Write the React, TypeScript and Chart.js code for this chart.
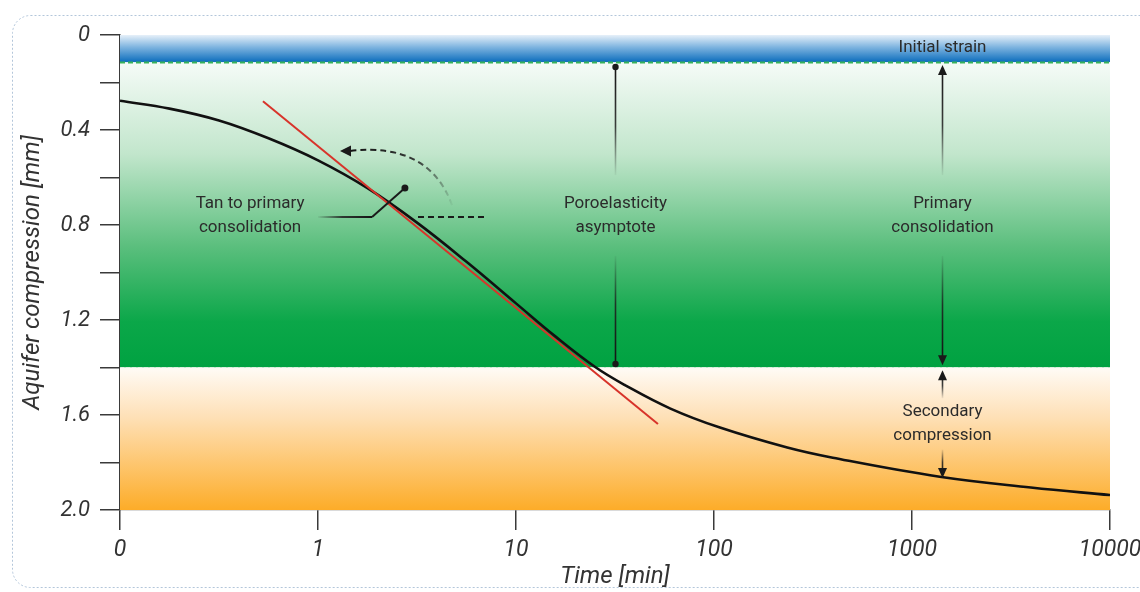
import React, { useEffect, useRef } from "react";
import { Chart, registerables } from "chart.js";

Chart.register(...registerables);

// ---- data (x in log10 decades: 0 -> "0", 1 -> "1", ... 5 -> "10000") ----
const timeDecade = [0, 0.25, 0.5, 0.75, 1.0, 1.25, 1.5, 1.75, 2.0, 2.2, 2.4, 2.55, 2.78, 3.03, 3.37, 3.6, 4.14, 4.6, 5.0];
const compression = [0.277, 0.31, 0.36, 0.435, 0.528, 0.645, 0.79, 0.955, 1.13, 1.27, 1.398, 1.474, 1.573, 1.653, 1.737, 1.78, 1.86, 1.905, 1.937];
const tangentX = [0.722, 2.717];
const tangentY = [0.279, 1.638];
const xTickLabels = ["0", "1", "10", "100", "1000", "10000"];
const yTickValues = [0, 0.2, 0.4, 0.6, 0.8, 1.0, 1.2, 1.4, 1.6, 1.8, 2.0];
const yTickLabels = ["0", "", "0.4", "", "0.8", "", "1.2", "", "1.6", "", "2.0"];
const bandEdges = [0, 0.115, 1.4, 2.0];

// annotation anchors (data coordinates)
const sideX = 4.15;
const initialStrainY = 0.055;
const primaryLabelY = [0.712, 0.813];
const secondaryLabelY = [1.587, 1.688];
const asymptoteX = 2.5;
const asymptoteLabelY = [0.712, 0.813];
const asymptoteSpan = [0.135, 0.59, 0.93, 1.385];
const primaryArrowSpan = [0.126, 0.59, 0.93, 1.39];
const secondaryArrowSpan = [1.412, 1.53, 1.745, 1.865];
const tanLabelX = 0.657;
const tanLabelY = [0.712, 0.813];
const tanLeaderX = [1.0, 1.273, 1.439];
const tanLeaderY = [0.766, 0.766, 0.644];
const tanDashX = [1.505, 1.854];
const tanDashY = 0.766;
const rotArrowX = [1.677, 1.561, 1.162, 1.111];
const rotArrowY = [0.716, 0.451, 0.488, 0.488];

const FONT = 'Roboto, "Open Sans", "DejaVu Sans", sans-serif';
const TEXT = "#2b2b2b";
const bandStops: [number, string][][] = [
  [[0, "#e6f0f9"], [0.45, "#7db3df"], [1, "#0a6cbc"]],
  [[0, "#f5fbf7"], [0.3, "#c2e6cc"], [0.6, "#5cbf7e"], [0.85, "#0ba749"], [1, "#00a241"]],
  [[0, "#fffbf6"], [0.35, "#fee0b6"], [1, "#fdac28"]],
];

function fadeStroke(ctx: CanvasRenderingContext2D, x1: number, y1: number, x2: number, y2: number) {
  const g = ctx.createLinearGradient(x1, y1, x2, y2);
  g.addColorStop(0, "rgba(30,30,30,0.05)");
  g.addColorStop(0.45, "rgba(30,30,30,0.85)");
  g.addColorStop(1, "rgba(20,20,20,1)");
  return g;
}

function vArrow(ctx: CanvasRenderingContext2D, x: number, yFade: number, yHead: number) {
  const dir = yHead > yFade ? 1 : -1;
  ctx.save();
  ctx.strokeStyle = fadeStroke(ctx, x, yFade, x, yHead);
  ctx.lineWidth = 1.6;
  ctx.beginPath();
  ctx.moveTo(x, yFade);
  ctx.lineTo(x, yHead - dir * 6);
  ctx.stroke();
  ctx.fillStyle = "#1a1a1a";
  ctx.beginPath();
  ctx.moveTo(x, yHead);
  ctx.lineTo(x - 4.5, yHead - dir * 10);
  ctx.lineTo(x + 4.5, yHead - dir * 10);
  ctx.closePath();
  ctx.fill();
  ctx.restore();
}

function vDotLine(ctx: CanvasRenderingContext2D, x: number, yFade: number, yDot: number) {
  ctx.save();
  ctx.strokeStyle = fadeStroke(ctx, x, yFade, x, yDot);
  ctx.lineWidth = 1.6;
  ctx.beginPath();
  ctx.moveTo(x, yFade);
  ctx.lineTo(x, yDot);
  ctx.stroke();
  ctx.fillStyle = "#1a1a1a";
  ctx.beginPath();
  ctx.arc(x, yDot, 3.2, 0, Math.PI * 2);
  ctx.fill();
  ctx.restore();
}

const framePlugin = {
  id: "frame",
  beforeDraw(chart: any) {
    const ctx = chart.ctx;
    ctx.save();
    ctx.strokeStyle = "#b3c6da";
    ctx.lineWidth = 1;
    ctx.setLineDash([2, 2]);
    ctx.beginPath();
    ctx.roundRect(12.5, 15.5, 1160, 572, 18);
    ctx.stroke();
    ctx.restore();
  },
};

const bandsPlugin = {
  id: "bands",
  beforeDatasetsDraw(chart: any) {
    const { ctx, scales } = chart;
    const xs = scales.x, ys = scales.y;
    const left = xs.getPixelForValue(xs.min);
    const right = xs.getPixelForValue(xs.max);
    ctx.save();
    for (let i = 0; i < bandEdges.length - 1; i++) {
      const top = ys.getPixelForValue(bandEdges[i]);
      const bottom = ys.getPixelForValue(bandEdges[i + 1]);
      const g = ctx.createLinearGradient(0, top, 0, bottom);
      bandStops[i].forEach(([o, c]) => g.addColorStop(o, c));
      ctx.fillStyle = g;
      ctx.fillRect(left, top, right - left, bottom - top);
    }
    const y1 = Math.round(ys.getPixelForValue(bandEdges[1])) + 0.5;
    ctx.setLineDash([5, 3]);
    ctx.lineWidth = 2;
    ctx.strokeStyle = "#39b25a";
    ctx.beginPath();
    ctx.moveTo(left, y1);
    ctx.lineTo(right, y1);
    ctx.stroke();
    const y2 = Math.round(ys.getPixelForValue(bandEdges[2])) + 0.5;
    ctx.setLineDash([4, 2]);
    ctx.strokeStyle = "#fbfbf4";
    ctx.beginPath();
    ctx.moveTo(left, y2);
    ctx.lineTo(right, y2);
    ctx.stroke();
    ctx.restore();
  },
};

const annotationPlugin = {
  id: "notes",
  afterDatasetsDraw(chart: any) {
    const { ctx, scales } = chart;
    const X = (v: number) => scales.x.getPixelForValue(v);
    const Y = (v: number) => scales.y.getPixelForValue(v);
    ctx.save();
    ctx.font = `17px ${FONT}`;
    ctx.fillStyle = TEXT;
    ctx.textAlign = "center";
    ctx.textBaseline = "middle";

    const sx = Math.round(X(sideX)) + 0.5;
    ctx.fillText("Initial strain", sx, Y(initialStrainY));
    ctx.fillText("Primary", sx, Y(primaryLabelY[0]));
    ctx.fillText("consolidation", sx, Y(primaryLabelY[1]));
    ctx.fillText("Secondary", sx, Y(secondaryLabelY[0]));
    ctx.fillText("compression", sx, Y(secondaryLabelY[1]));
    vArrow(ctx, sx, Y(primaryArrowSpan[1]), Y(primaryArrowSpan[0]));
    vArrow(ctx, sx, Y(primaryArrowSpan[2]), Y(primaryArrowSpan[3]));
    vArrow(ctx, sx, Y(secondaryArrowSpan[1]), Y(secondaryArrowSpan[0]));
    vArrow(ctx, sx, Y(secondaryArrowSpan[2]), Y(secondaryArrowSpan[3]));

    const ax = Math.round(X(asymptoteX)) + 0.5;
    ctx.fillStyle = TEXT;
    ctx.fillText("Poroelasticity", ax, Y(asymptoteLabelY[0]));
    ctx.fillText("asymptote", ax, Y(asymptoteLabelY[1]));
    vDotLine(ctx, ax, Y(asymptoteSpan[1]), Y(asymptoteSpan[0]));
    vDotLine(ctx, ax, Y(asymptoteSpan[2]), Y(asymptoteSpan[3]));

    ctx.fillStyle = TEXT;
    ctx.fillText("Tan to primary", X(tanLabelX), Y(tanLabelY[0]));
    ctx.fillText("consolidation", X(tanLabelX), Y(tanLabelY[1]));

    ctx.save();
    ctx.lineWidth = 2;
    ctx.strokeStyle = fadeStroke(ctx, X(tanLeaderX[0]), 0, X(tanLeaderX[1]), 0);
    ctx.beginPath();
    ctx.moveTo(X(tanLeaderX[0]), Y(tanLeaderY[0]));
    ctx.lineTo(X(tanLeaderX[1]), Y(tanLeaderY[1]));
    ctx.stroke();
    ctx.strokeStyle = "#1a1a1a";
    ctx.beginPath();
    ctx.moveTo(X(tanLeaderX[1]), Y(tanLeaderY[1]));
    ctx.lineTo(X(tanLeaderX[2]), Y(tanLeaderY[2]));
    ctx.stroke();
    ctx.fillStyle = "#1a1a1a";
    ctx.beginPath();
    ctx.arc(X(tanLeaderX[2]), Y(tanLeaderY[2]), 3.5, 0, Math.PI * 2);
    ctx.fill();

    ctx.setLineDash([6, 4]);
    ctx.lineWidth = 2;
    ctx.beginPath();
    ctx.moveTo(X(tanDashX[0]), Y(tanDashY));
    ctx.lineTo(X(tanDashX[1]), Y(tanDashY));
    ctx.stroke();

    const p0x = X(rotArrowX[0]), p0y = Y(rotArrowY[0]);
    const p2x = X(rotArrowX[2]), p2y = Y(rotArrowY[2]);
    ctx.strokeStyle = fadeStroke(ctx, p0x, p0y, p2x, p2y);
    ctx.beginPath();
    ctx.moveTo(p0x, p0y);
    ctx.quadraticCurveTo(X(rotArrowX[1]), Y(rotArrowY[1]), p2x, p2y);
    ctx.stroke();
    ctx.setLineDash([]);
    const tx = X(rotArrowX[3]), ty = Y(rotArrowY[3]);
    ctx.fillStyle = "#1a1a1a";
    ctx.beginPath();
    ctx.moveTo(tx, ty);
    ctx.lineTo(tx + 11, ty - 5.5);
    ctx.lineTo(tx + 11, ty + 5.5);
    ctx.closePath();
    ctx.fill();
    ctx.restore();

    ctx.restore();
  },
};

export default function App() {
  const ref = useRef<HTMLCanvasElement | null>(null);
  useEffect(() => {
    if (!ref.current) return;
    const curve = timeDecade.map((x, i) => ({ x, y: compression[i] }));
    const tangent = tangentX.map((x, i) => ({ x, y: tangentY[i] }));
    const tickColor = "#3a3a3a";
    const chart = new Chart(ref.current, {
      type: "line",
      data: {
        datasets: [
          {
            label: "Tangent",
            data: tangent,
            borderColor: "#d8332a",
            borderWidth: 2,
            pointRadius: 0,
            tension: 0,
          },
          {
            label: "Compression",
            data: curve,
            borderColor: "#111111",
            borderWidth: 2.6,
            pointRadius: 0,
            tension: 0.4,
          },
        ],
      },
      options: {
        responsive: false,
        animation: false,
        devicePixelRatio: 1,
        layout: { padding: { top: 35, right: 30, left: 0, bottom: 0 } },
        plugins: { legend: { display: false }, tooltip: { enabled: false } },
        scales: {
          x: {
            type: "linear",
            min: 0,
            max: 5,
            afterFit(s: any) {
              s.height = 82;
              s.paddingLeft = 0;
              s.paddingRight = 0;
            },
            ticks: {
              stepSize: 1,
              autoSkip: false,
              maxRotation: 0,
              padding: 6,
              color: "#333",
              font: { family: FONT, size: 23, style: "italic" },
              callback: (v: any) => xTickLabels[Math.round(Number(v))],
            },
            grid: { drawOnChartArea: false, drawTicks: true, tickLength: 20, color: tickColor, lineWidth: 1.5 },
            border: { display: true, color: "#6b6b6b", width: 1.2 },
            title: {
              display: true,
              text: "Time [min]",
              color: "#333",
              font: { family: FONT, size: 24, style: "italic" },
              padding: { top: 0, bottom: 1 },
            },
          },
          y: {
            type: "linear",
            reverse: true,
            min: 0,
            max: 2,
            afterFit(s: any) {
              s.width = 120;
              s.paddingTop = 0;
              s.paddingBottom = 0;
            },
            ticks: {
              stepSize: 0.2,
              autoSkip: false,
              padding: 10,
              color: "#333",
              font: { family: FONT, size: 22, style: "italic" },
              callback: (v: any) => {
                const n = Number(v);
                let best = 0;
                yTickValues.forEach((t, i) => {
                  if (Math.abs(t - n) < Math.abs(yTickValues[best] - n)) best = i;
                });
                return yTickLabels[best];
              },
            },
            grid: { drawOnChartArea: false, drawTicks: true, tickLength: 20, color: tickColor, lineWidth: 1.5 },
            border: { display: true, color: tickColor, width: 1.5 },
            title: {
              display: true,
              text: "Aquifer compression [mm]",
              color: "#333",
              font: { family: FONT, size: 24, style: "italic" },
              padding: { top: 19, bottom: 0 },
            },
          },
        },
      } as any,
      plugins: [framePlugin, bandsPlugin, annotationPlugin],
    });
    return () => chart.destroy();
  }, []);
  return (
    <div style={{ position: "absolute", left: 0, top: 0, width: 1140, height: 592, background: "#fff" }}>
      <canvas ref={ref} width={1140} height={592} style={{ display: "block" }} />
    </div>
  );
}
